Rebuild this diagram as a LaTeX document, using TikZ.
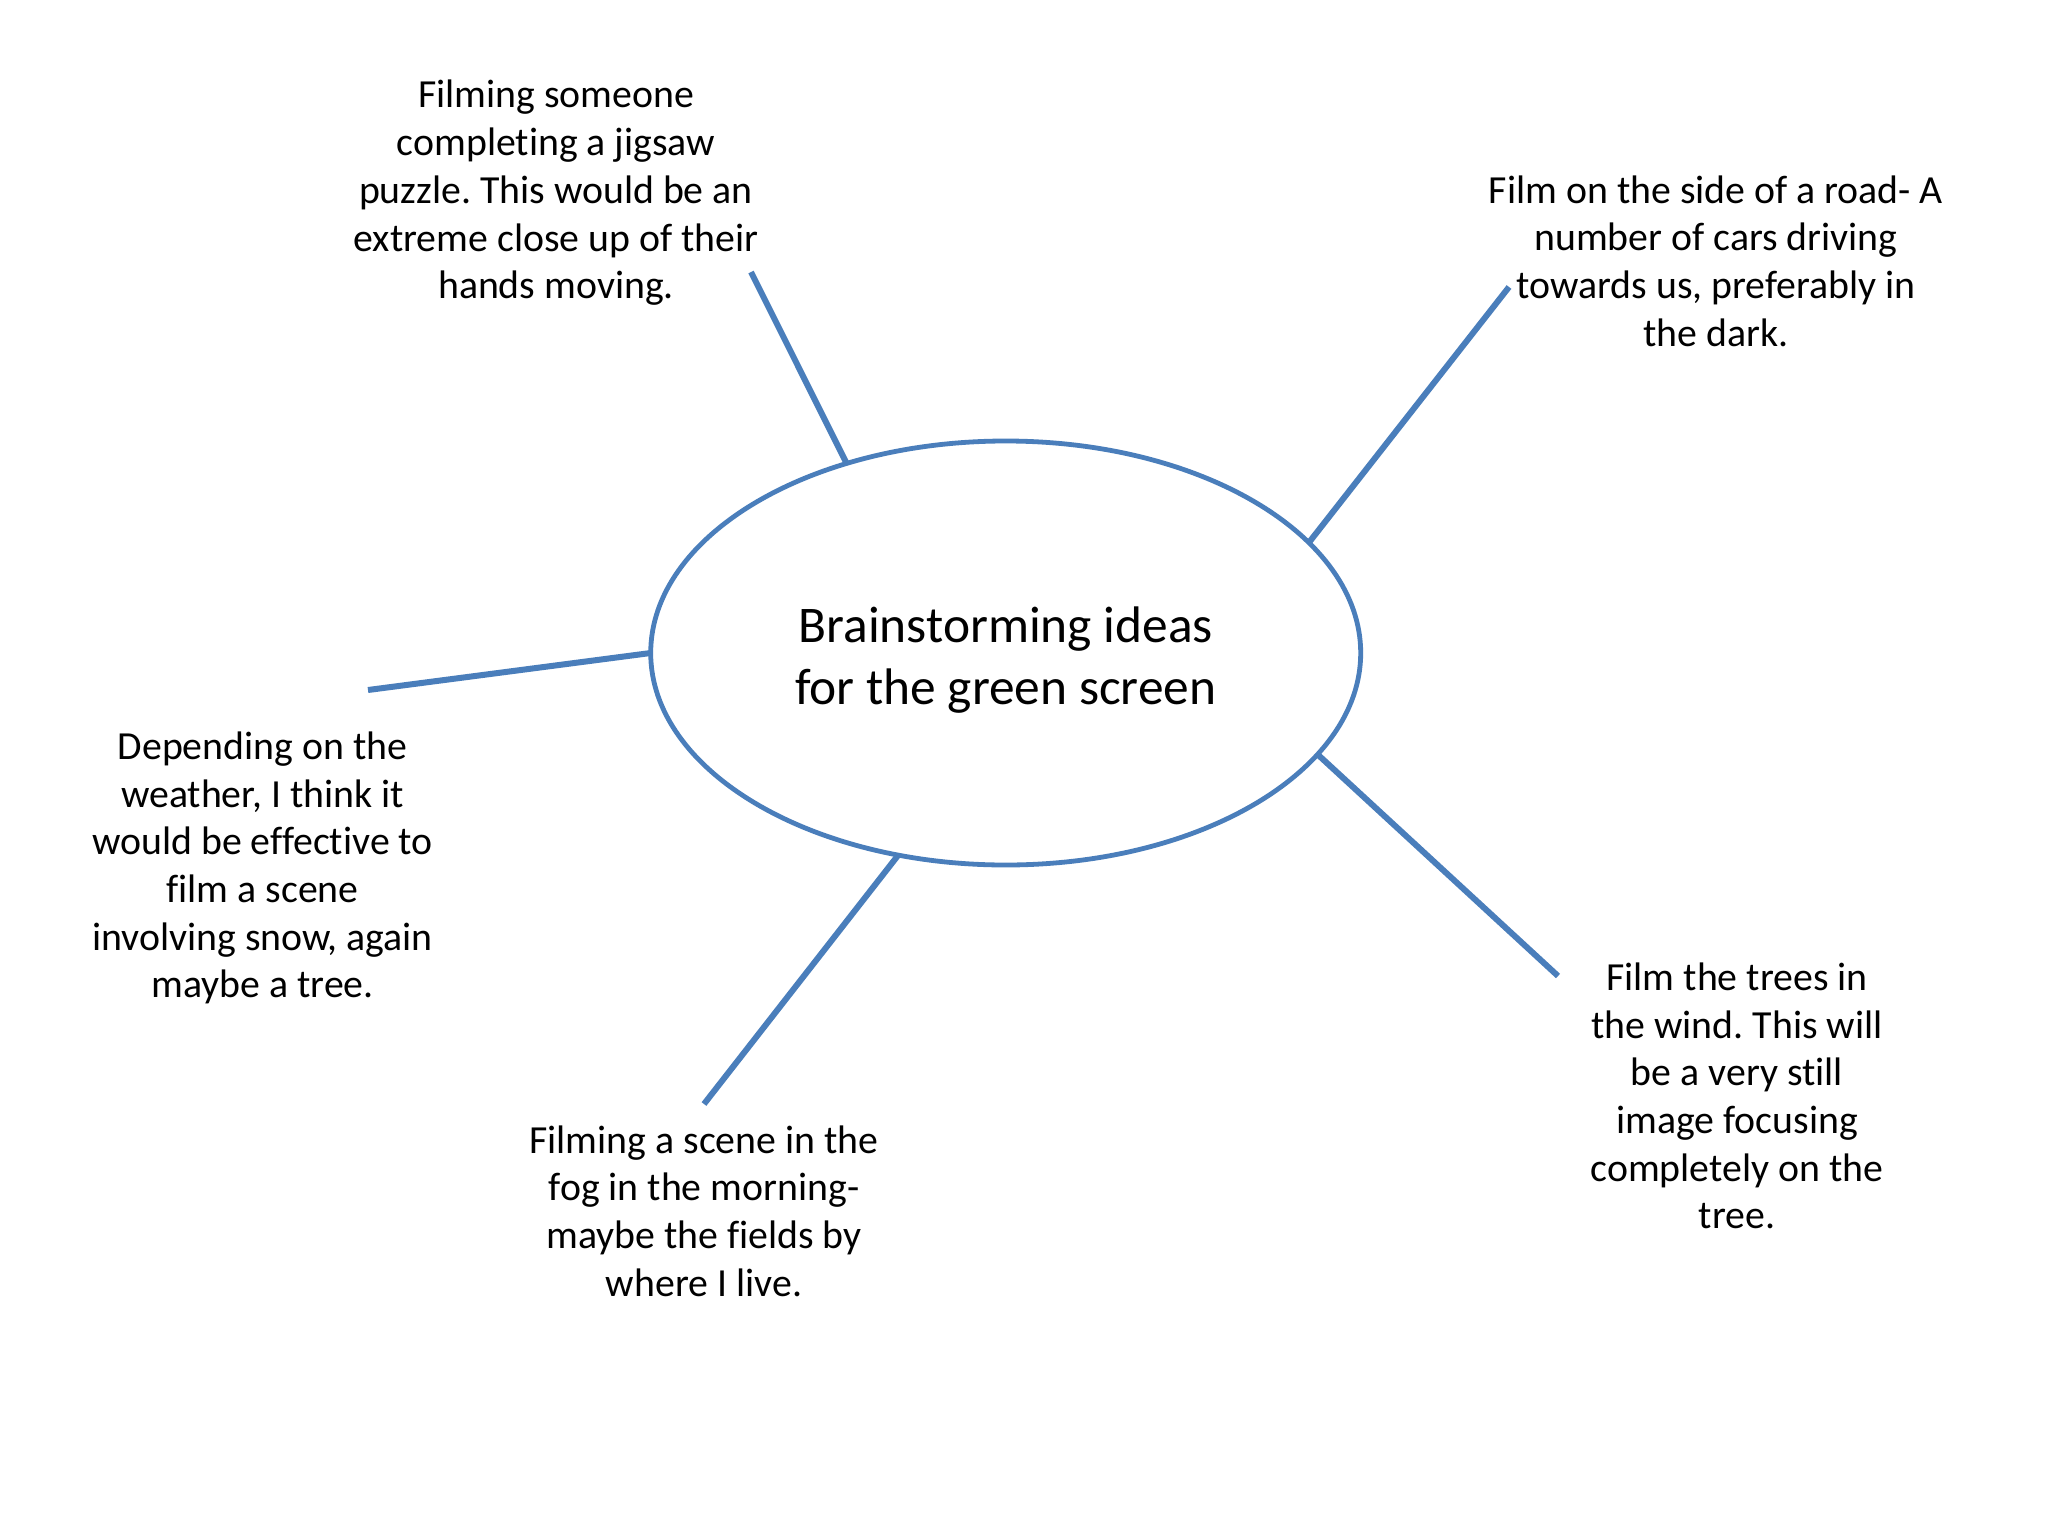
\documentclass[tikz,border=0pt]{standalone}
\usepackage{fontspec}
\setmainfont[Ligatures=NoCommon]{Carlito}
\usetikzlibrary{shapes.geometric}
\definecolor{ideablue}{HTML}{4A7EBB}
\tikzset{
  idea/.style={align=center, inner sep=0pt, font=\fontsize{19.9pt}{23.85pt}\selectfont, text=black},
  hub/.style={ellipse, draw=ideablue, line width=2.4pt, minimum width=355pt, minimum height=212pt, inner sep=0pt, outer sep=0pt},
  hubtext/.style={align=center, inner sep=0pt, font=\fontsize{25.7pt}{30.7pt}\selectfont},
  spoke/.style={draw=ideablue, line width=3pt}
}
\frenchspacing
\begin{document}
\begin{tikzpicture}[x=0.5pt,y=-0.5pt]
\useasboundingbox (0,0) rectangle (2048,1536);
\fill[white] (0,0) rectangle (2048,1536);
\node[hub] (hub) at (1005.7,653) {};
\node[hubtext] (title) at (1005.7,660) {Brainstorming ideas\\for the green screen};
\node[idea] (jig) at (556,193) {Filming someone\\completing a jigsaw\\puzzle. This would be an\\extreme close up of their\\hands moving.};
\node[idea] (road) at (1716,261) {Film on the side of a road- A\\number of cars driving\\towards us, preferably in\\the dark.};
\node[idea] (snow) at (262.5,868) {Depending on the\\weather, I think it\\would be effective to\\film a scene\\involving snow, again\\maybe a tree.};
\node[idea] (fog) at (704,1211) {Filming a scene in the\\fog in the morning-\\maybe the fields by\\where I live.};
\node[idea] (tree) at (1737,1096) {Film the trees in\\the wind. This will\\be a very still\\image focusing\\completely on the\\tree.};
\coordinate (cjig) at (751,272);
\coordinate (croad) at (1509,287);
\coordinate (csnow) at (368,690);
\coordinate (cfog) at (704,1104);
\coordinate (ctree) at (1558,976);
\draw[spoke] (hub.130.3) -- (cjig);
\draw[spoke] (hub.20.7) -- (croad);
\draw[spoke] (hub.180) -- (csnow);
\draw[spoke] (hub.242.4) -- (cfog);
\draw[spoke] (hub.-18.4) -- (ctree);
\end{tikzpicture}
\end{document}
